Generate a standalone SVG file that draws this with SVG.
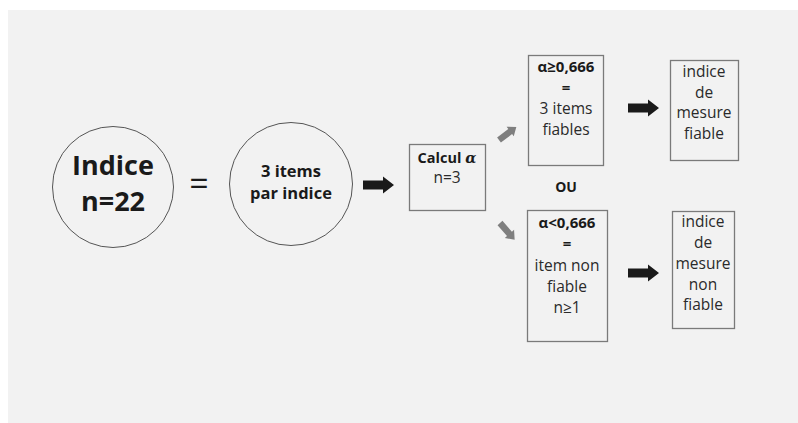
<svg xmlns="http://www.w3.org/2000/svg" width="798" height="423" viewBox="0 0 798 423">
  <style>
    text { font-family: "Open Sans", "DejaVu Sans", sans-serif; fill: #1a1a1a; text-anchor: middle; }
    .b { font-weight: bold; font-size: 15px; }
    .node { fill: none; stroke: #7a7a7a; stroke-width: 1.3; }
    .circ { fill: none; stroke: #555; stroke-width: 1; }
    .big { font-size: 27px; font-weight: bold; }
    .mid { font-size: 16.5px; font-weight: bold; }
    .sm { font-size: 15.5px; fill: #2a2a2a; }
  </style>
  <defs>
    <path id="arrow" d="M0,-4.5 H20 V-8.5 L31,0 L20,8.5 V4.5 H0 Z"/>
  </defs>
  <rect x="0" y="0" width="798" height="423" fill="#ffffff"/>
  <rect x="8" y="10" width="790" height="413" fill="#f2f2f2"/>

  <g id="indice">
    <circle class="circ" cx="113" cy="187" r="60.5"/>
    <text class="big" x="113" y="175">Indice</text>
    <text class="big" x="113" y="211">n=22</text>
  </g>

  <g id="equals">
    <text x="199" y="196" style="font-size:34px" fill="#222">=</text>
  </g>

  <g id="items">
    <circle class="circ" cx="291" cy="184" r="61.5"/>
    <text class="mid" x="291" y="177">3 items</text>
    <text class="mid" x="291" y="199">par indice</text>
  </g>

  <g id="calcul">
    <rect class="node" x="409.5" y="144.5" width="76" height="66"/>
    <text class="b" x="447" y="163" style="font-size:14.5px">Calcul <tspan font-style="italic" font-family="'DejaVu Serif', serif">α</tspan></text>
    <text class="sm" x="447" y="183">n=3</text>
  </g>

  <g id="fiable-items">
    <rect class="node" x="528.5" y="55.5" width="75" height="110"/>
    <text class="b" x="566" y="72">α≥0,666</text>
    <text class="b" x="566" y="93">=</text>
    <text class="sm" x="566" y="114">3 items</text>
    <text class="sm" x="566" y="135">fiables</text>
  </g>

  <g id="ou">
    <text class="b" x="566" y="192" style="font-size:14px">OU</text>
  </g>

  <g id="nonfiable-items">
    <rect class="node" x="527.5" y="210.5" width="80" height="131"/>
    <text class="b" x="567" y="228">α&lt;0,666</text>
    <text class="b" x="567" y="249">=</text>
    <text class="sm" x="567" y="271">item non</text>
    <text class="sm" x="567" y="292">fiable</text>
    <text class="sm" x="567" y="313">n≥1</text>
  </g>

  <g id="mesure-fiable">
    <rect class="node" x="670.5" y="60.5" width="68" height="100"/>
    <text class="sm" x="704" y="77">indice</text>
    <text class="sm" x="704" y="98">de</text>
    <text class="sm" x="704" y="118">mesure</text>
    <text class="sm" x="704" y="139">fiable</text>
  </g>

  <g id="mesure-nonfiable">
    <rect class="node" x="672.5" y="211.5" width="62" height="117"/>
    <text class="sm" x="703" y="227">indice</text>
    <text class="sm" x="703" y="248">de</text>
    <text class="sm" x="703" y="269">mesure</text>
    <text class="sm" x="703" y="290">non</text>
    <text class="sm" x="703" y="310">fiable</text>
  </g>

  <g id="connectors">
    <use href="#arrow" transform="translate(363,185)" fill="#1a1a1a"/>
    <use href="#arrow" transform="translate(628,108)" fill="#1a1a1a"/>
    <use href="#arrow" transform="translate(628,273)" fill="#1a1a1a"/>
    <use href="#arrow" transform="translate(499,140) rotate(-37) scale(0.7)" fill="#7f7f7f"/>
    <use href="#arrow" transform="translate(500,223) rotate(49) scale(0.72)" fill="#7f7f7f"/>
  </g>
</svg>
